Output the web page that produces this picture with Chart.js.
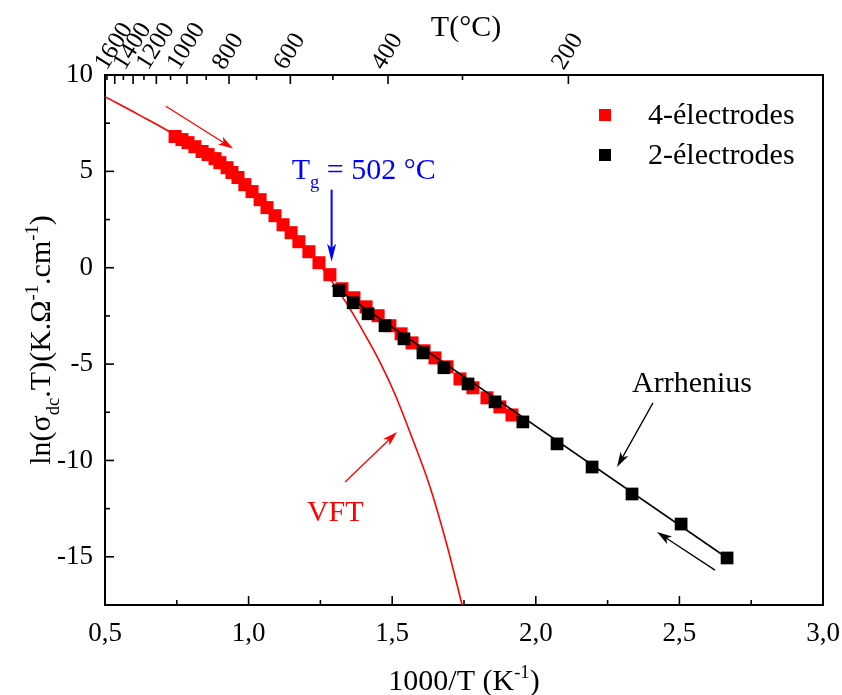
<!DOCTYPE html>
<html><head><meta charset="utf-8">
<script src="https://cdn.jsdelivr.net/npm/chart.js@4.4.1/dist/chart.umd.min.js"></script>
<style>html,body{margin:0;padding:0;background:#fff;}#wrap{width:842px;height:695px;position:relative;}</style>
</head><body><div id="wrap"><canvas id="c"></canvas></div>
<script>
// ---- data ----
const redX = [0.744,0.768,0.789,0.813,0.838,0.859,0.883,0.900,0.925,0.942,0.963,0.987,1.012,1.040,1.064,1.092,1.120,1.148,1.175,1.210,1.245,1.283,1.325,1.367,1.409,1.451,1.492,1.531,1.569,1.611,1.649,1.691,1.736,1.781,1.830,1.875,1.917];
const redY = [6.81,6.65,6.49,6.28,6.03,5.87,5.66,5.45,5.19,4.94,4.68,4.31,3.95,3.53,3.12,2.70,2.23,1.82,1.35,0.83,0.26,-0.36,-1.09,-1.56,-2.03,-2.49,-3.01,-3.43,-3.90,-4.31,-4.68,-5.14,-5.77,-6.23,-6.75,-7.22,-7.64];
const blackX = [1.315,1.364,1.416,1.475,1.541,1.607,1.680,1.764,1.858,1.955,2.074,2.196,2.335,2.506,2.666];
const blackY = [-1.19,-1.82,-2.39,-3.01,-3.69,-4.42,-5.19,-6.03,-6.96,-8.00,-9.14,-10.34,-11.74,-13.30,-15.06];
const vftX = [0.50,0.62,0.74,0.86,0.98,1.08,1.18,1.25,1.30,1.35,1.41,1.46,1.51,1.57,1.63,1.69,1.745];
const vftY = [8.88,7.92,6.92,5.72,4.35,3.00,1.40,0.11,-0.93,-2.06,-3.60,-4.98,-6.58,-8.86,-11.30,-14.36,-17.60];
const arrhX = [1.29, 2.67];
const arrhY = [-0.93, -15.10];
const seriesNames = ['4-électrodes','2-électrodes'];
const xTickValues = [0.5,1.0,1.5,2.0,2.5,3.0];
const xTickLabels = ['0,5','1,0','1,5','2,0','2,5','3,0'];
const xMinorValues = [0.75,1.25,1.75,2.25,2.75];
const yTickValues = [-15,-10,-5,0,5,10];
const yTickLabels = ['-15','-10','-5','0','5','10'];
const yMinorValues = [-12.5,-7.5,-2.5,2.5,7.5];
const topMajorT = [1600,1400,1200,1000,800,600,400,200];
const topMajorLabels = ['1600','1400','1200','1000','800','600','400','200'];
const topMinorT = [1700,1500,1300,1100,900,700,500,300];

const FONT = "'Liberation Serif','Times New Roman',serif";
const toInv = t => 1000/(t+273.15);
const pts = (xs,ys)=>xs.map((x,i)=>({x:x,y:ys[i]}));

function rich(ctx, segs, x, y, size, align){
  let w=0;
  const parts = segs.map(s=>{
    const fs = s[1] ? size*0.62 : size;
    ctx.font = fs+'px '+FONT;
    const mw = ctx.measureText(s[0]).width; w+=mw;
    return {t:s[0], fs:fs, mw:mw, dy: s[1]==='sub' ? size*0.3 : (s[1]==='sup' ? -size*0.4 : 0)};
  });
  let cx = align==='center' ? x-w/2 : x;
  ctx.textAlign='left'; ctx.textBaseline='alphabetic';
  parts.forEach(p=>{ctx.font=p.fs+'px '+FONT; ctx.fillText(p.t,cx,y+p.dy); cx+=p.mw;});
}
function arrow(ctx,x1,y1,x2,y2,color,lw,hl,hw){
  const a=Math.atan2(y2-y1,x2-x1), c=Math.cos(a), s=Math.sin(a);
  ctx.save(); ctx.strokeStyle=color; ctx.fillStyle=color; ctx.lineWidth=lw;
  ctx.beginPath(); ctx.moveTo(x1,y1); ctx.lineTo(x2-hl*0.7*c, y2-hl*0.7*s); ctx.stroke();
  const bx=x2-hl*c, by=y2-hl*s;
  ctx.beginPath(); ctx.moveTo(x2,y2);
  ctx.lineTo(bx-hw*s, by+hw*c);
  ctx.lineTo(x2-hl*0.75*c, y2-hl*0.75*s);
  ctx.lineTo(bx+hw*s, by-hw*c);
  ctx.closePath(); ctx.fill(); ctx.restore();
}

const decor = {
  id:'decor',
  afterDraw(chart){
    const ctx=chart.ctx, ca=chart.chartArea, X=chart.scales.x, Y=chart.scales.y;
    ctx.save();
    // frame right side
    ctx.strokeStyle='#000'; ctx.lineWidth=2;
    ctx.beginPath(); ctx.moveTo(ca.right,ca.top-1); ctx.lineTo(ca.right,ca.bottom+1); ctx.stroke();
    // inward ticks
    ctx.lineWidth=1.6;
    const tk=(px,py,dx,dy)=>{ctx.beginPath();ctx.moveTo(px,py);ctx.lineTo(px+dx,py+dy);ctx.stroke();};
    xTickValues.forEach(v=>tk(X.getPixelForValue(v),ca.bottom,0,-9));
    xMinorValues.forEach(v=>tk(X.getPixelForValue(v),ca.bottom,0,-5));
    yTickValues.forEach(v=>tk(ca.left,Y.getPixelForValue(v),9,0));
    yMinorValues.forEach(v=>tk(ca.left,Y.getPixelForValue(v),5,0));
    topMajorT.forEach(t=>tk(X.getPixelForValue(toInv(t)),ca.top,0,9));
    topMinorT.forEach(t=>tk(X.getPixelForValue(toInv(t)),ca.top,0,5));
    // top temperature labels (rotated)
    ctx.fillStyle='#000';
    const th=58*Math.PI/180, cs=Math.cos(th), sn=Math.sin(th), fsz=25, hcap=fsz*0.66;
    ctx.font=fsz+'px '+FONT; ctx.textAlign='left'; ctx.textBaseline='alphabetic';
    topMajorT.forEach((t,i)=>{
      const lab=topMajorLabels[i], L=ctx.measureText(lab).width;
      const px=X.getPixelForValue(toInv(t));
      const sx=px-(L*cs-hcap*sn)/2-2, sy=ca.top-4;
      ctx.save(); ctx.translate(sx,sy); ctx.rotate(-th); ctx.fillText(lab,0,0); ctx.restore();
    });
    // axis titles
    rich(ctx,[['1000/T (K'],['-1','sup'],[')']], (ca.left+ca.right)/2, 690, 30, 'center');
    rich(ctx,[['T(°C)']], 466, 36, 30, 'center');
    ctx.save(); ctx.translate(50,(ca.top+ca.bottom)/2); ctx.rotate(-Math.PI/2);
    rich(ctx,[['ln(σ'],['dc','sub'],['.T)(K.Ω'],['-1','sup'],['.cm'],['-1','sup'],[')']],0,0,30,'center');
    ctx.restore();
    // legend
    const ds=chart.data.datasets;
    [0,1].forEach(i=>{
      const d=ds[i], ly=ca.top+40+i*40;
      ctx.fillStyle=d.backgroundColor; ctx.fillRect(599,ly-6,12,12);
      ctx.fillStyle='#000'; ctx.font='30px '+FONT; ctx.textAlign='left'; ctx.textBaseline='middle';
      ctx.fillText(seriesNames[i],648,ly+1);
    });
    // annotations
    const P=(x,y)=>[X.getPixelForValue(x),Y.getPixelForValue(y)];
    let a=P(0.712,8.38), b=P(0.946,6.18);
    arrow(ctx,a[0],a[1],b[0],b[1],'#ff0000',1.3,15,4.5);
    ctx.fillStyle='#0000ff';
    let t=P(1.150,4.62);
    rich(ctx,[['T'],['g','sub'],[' = 502 °C']],t[0],t[1],30,'left');
    a=P(1.289,4.05); b=P(1.289,0.31);
    arrow(ctx,a[0],a[1],b[0],b[1],'#0000ff',2,18,4.5);
    ctx.fillStyle='#ff0000';
    t=P(1.203,-13.14); rich(ctx,[['VFT']],t[0],t[1],30,'left');
    a=P(1.336,-11.12); b=P(1.517,-8.52);
    arrow(ctx,a[0],a[1],b[0],b[1],'#ff0000',1.3,15,4.5);
    ctx.fillStyle='#000';
    t=P(2.335,-6.44); rich(ctx,[['Arrhenius']],t[0],t[1],30,'left');
    a=P(2.408,-7.01); b=P(2.283,-10.34);
    arrow(ctx,a[0],a[1],b[0],b[1],'#000',1.3,15,4.5);
    a=P(2.624,-15.69); b=P(2.422,-13.71);
    arrow(ctx,a[0],a[1],b[0],b[1],'#000',1.3,15,4.5);
    ctx.restore();
  }
};

const noPad = s=>{s.paddingLeft=0; s.paddingRight=0;};
new Chart(document.getElementById('c'),{
  type:'scatter',
  data:{datasets:[
    {label:seriesNames[0],data:pts(redX,redY),backgroundColor:'#ff0000',borderColor:'#ff0000',borderWidth:0,pointStyle:'rect',pointRadius:9.2,showLine:false,order:2},
    {label:seriesNames[1],data:pts(blackX,blackY),backgroundColor:'#000000',borderColor:'#000000',borderWidth:0,pointStyle:'rect',pointRadius:9.0,showLine:false,order:1},
    {label:'VFT',data:pts(vftX,vftY),showLine:true,borderColor:'#ff0000',borderWidth:1.6,pointRadius:0,tension:0.4,cubicInterpolationMode:'monotone',fill:false,order:3},
    {label:'Arrhenius',data:pts(arrhX,arrhY),showLine:true,borderColor:'#000000',borderWidth:1.6,pointRadius:0,fill:false,order:0}
  ]},
  options:{
    responsive:true, maintainAspectRatio:false, animation:false,
    layout:{padding:{left:0,right:19,top:0,bottom:0}},
    plugins:{legend:{display:false},tooltip:{enabled:false}},
    scales:{
      x:{type:'linear',position:'bottom',min:0.5,max:3.0,
        afterBuildTicks:s=>{s.ticks=xTickValues.map(v=>({value:v}));},
        afterFit:s=>{s.height=90; noPad(s);},
        grid:{display:false,drawTicks:false},
        border:{display:true,color:'#000',width:2},
        ticks:{autoSkip:false,maxRotation:0,padding:13,color:'#000',font:{family:FONT,size:27},
          callback:(v,i)=>xTickLabels[i]}},
      x2:{type:'linear',position:'top',min:0.5,max:3.0,
        afterBuildTicks:s=>{s.ticks=topMajorT.map(t=>({value:toInv(t)}));},
        afterFit:s=>{s.height=75; noPad(s);},
        grid:{display:false,drawTicks:false},
        border:{display:true,color:'#000',width:2},
        ticks:{display:false}},
      y:{type:'linear',position:'left',min:-17.5,max:10,
        afterBuildTicks:s=>{s.ticks=yTickValues.map(v=>({value:v}));},
        afterFit:s=>{s.width=105;},
        grid:{display:false,drawTicks:false},
        border:{display:true,color:'#000',width:2},
        ticks:{padding:12,color:'#000',font:{family:FONT,size:27},
          callback:(v,i)=>yTickLabels[i]}}
    }
  },
  plugins:[decor]
});
</script></body></html>
